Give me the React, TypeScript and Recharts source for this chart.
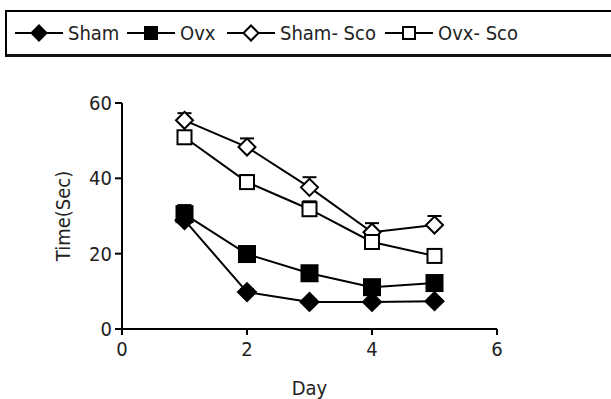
import React from 'react';
import { LineChart, Line, XAxis, YAxis, ErrorBar } from 'recharts';

const days = [1, 2, 3, 4, 5];
const sham = [28.9, 9.8, 7.2, 7.2, 7.4];
const shamErr = [0.8, 0.8, 0.6, 0.5, 0.5];
const ovx = [30.5, 19.9, 14.8, 11.1, 12.2];
const ovxErr = [2.4, 0.9, 0.9, 0.9, 0.8];
const shamSco = [55.4, 48.3, 37.6, 25.7, 27.6];
const shamScoErr = [1.9, 2.3, 2.7, 2.4, 2.4];
const ovxSco = [50.9, 39.0, 31.8, 23.1, 19.4];
const ovxScoErr = [1.0, 1.8, 2.1, 1.0, 1.8];

const xTicks = [0, 2, 4, 6];
const yTicks = [0, 20, 40, 60];

// error bars are one-sided (upward only), so each bar is drawn on a hidden
// line at the middle of [value, value + err] with a half-width error
const data = days.map((d, i) => ({
    day: d,
    sham: sham[i],
    shamMid: sham[i] + shamErr[i] / 2,
    shamHalf: shamErr[i] / 2,
    ovx: ovx[i],
    ovxMid: ovx[i] + ovxErr[i] / 2,
    ovxHalf: ovxErr[i] / 2,
    shamSco: shamSco[i],
    shamScoMid: shamSco[i] + shamScoErr[i] / 2,
    shamScoHalf: shamScoErr[i] / 2,
    ovxSco: ovxSco[i],
    ovxScoMid: ovxSco[i] + ovxScoErr[i] / 2,
    ovxScoHalf: ovxScoErr[i] / 2,
}));

const FONT = "'DejaVu Sans Condensed', 'DejaVu Sans', sans-serif";
const TEXT = '#222';

type Kind = 'diamond' | 'square';

function Marker({ cx, cy, kind, filled, size }: { cx: number; cy: number; kind: Kind; filled: boolean; size: number }) {
    const fill = filled ? '#000' : '#fff';
    const h = size;
    if (kind === 'diamond') {
        return (
            <polygon
                points={`${cx},${cy - h} ${cx + h},${cy} ${cx},${cy + h} ${cx - h},${cy}`}
                fill={fill}
                stroke="#000"
                strokeWidth={2}
            />
        );
    }
    return <rect x={cx - h} y={cy - h} width={h * 2} height={h * 2} fill={fill} stroke="#000" strokeWidth={2} />;
}

const series = [
    { key: 'sham', name: 'Sham', kind: 'diamond' as Kind, filled: true, size: 9, legendX: 10 },
    { key: 'ovx', name: 'Ovx', kind: 'square' as Kind, filled: true, size: 8, legendX: 122 },
    { key: 'shamSco', name: 'Sham- Sco', kind: 'diamond' as Kind, filled: false, size: 8.5, legendX: 222 },
    { key: 'ovxSco', name: 'Ovx- Sco', kind: 'square' as Kind, filled: false, size: 7, legendX: 380 },
];

function LegendBox() {
    return (
        <div
            style={{
                position: 'absolute',
                left: 5,
                top: 10,
                width: 606,
                height: 47,
                boxSizing: 'border-box',
                borderTop: '2px solid #000',
                borderLeft: '2px solid #000',
                borderBottom: '3px solid #111',
                fontFamily: FONT,
                fontSize: 20,
                color: TEXT,
            }}
        >
            {series.map((s) => (
                <div
                    key={s.key}
                    style={{ position: 'absolute', left: s.legendX - 2, top: 9, display: 'flex', alignItems: 'center', whiteSpace: 'nowrap' }}
                >
                    <svg width={48} height={24} style={{ display: 'block' }}>
                        <line x1={0} y1={12} x2={48} y2={12} stroke="#000" strokeWidth={2} />
                        <Marker cx={24} cy={12} kind={s.kind} filled={s.filled} size={s.kind === 'diamond' ? 7.5 : 6} />
                    </svg>
                    <span style={{ marginLeft: 5 }}>{s.name}</span>
                </div>
            ))}
        </div>
    );
}

export default function App() {
    return (
        <div style={{ position: 'absolute', left: 0, top: 0, width: 611, height: 399, background: '#fff' }}>
            <LineChart width={611} height={399} data={data} margin={{ top: 103, right: 114, left: 62, bottom: 0 }}>
                <XAxis
                    dataKey="day"
                    type="number"
                    domain={[0, 6]}
                    ticks={xTicks}
                    height={70}
                    tickSize={6}
                    tickMargin={7}
                    axisLine={{ stroke: '#000', strokeWidth: 2 }}
                    tickLine={{ stroke: '#000', strokeWidth: 2 }}
                    tick={{ fill: TEXT, fontSize: 20, fontFamily: FONT }}
                    label={{ value: 'Day', position: 'insideBottom', offset: 4, fill: TEXT, fontSize: 20, fontFamily: FONT }}
                />
                <YAxis
                    type="number"
                    domain={[0, 60]}
                    ticks={yTicks}
                    width={60}
                    tickSize={7}
                    tickMargin={3}
                    axisLine={{ stroke: '#000', strokeWidth: 2 }}
                    tickLine={{ stroke: '#000', strokeWidth: 2 }}
                    tick={{ fill: TEXT, fontSize: 20, fontFamily: FONT }}
                    label={{
                        content: (props: any) => {
                            const vb = props.viewBox || {};
                            const x = vb.x + 1;
                            const y = vb.y + vb.height / 2;
                            return (
                                <text
                                    x={x}
                                    y={y}
                                    transform={`rotate(-90 ${x} ${y})`}
                                    textAnchor="middle"
                                    dominantBaseline="central"
                                    fill={TEXT}
                                    fontSize={20}
                                    fontFamily={FONT}
                                >
                                    Time(Sec)
                                </text>
                            );
                        },
                    }}
                />
                {series.map((s) => (
                    <Line
                        key={`${s.key}-err`}
                        dataKey={`${s.key}Mid`}
                        stroke="none"
                        dot={false}
                        activeDot={false}
                        legendType="none"
                        isAnimationActive={false}
                    >
                        {/* width is the half-width of the cap */}
                        <ErrorBar dataKey={`${s.key}Half`} direction="y" width={7} stroke="#000" strokeWidth={2} />
                    </Line>
                ))}
                {series.map((s) => (
                    <Line
                        key={s.key}
                        dataKey={s.key}
                        name={s.name}
                        stroke="#000"
                        strokeWidth={2}
                        isAnimationActive={false}
                        dot={(p: any) => (
                            <Marker key={`${s.key}-${p.index}`} cx={p.cx} cy={p.cy} kind={s.kind} filled={s.filled} size={s.size} />
                        )}
                        activeDot={false}
                    />
                ))}
            </LineChart>
            <LegendBox />
        </div>
    );
}
